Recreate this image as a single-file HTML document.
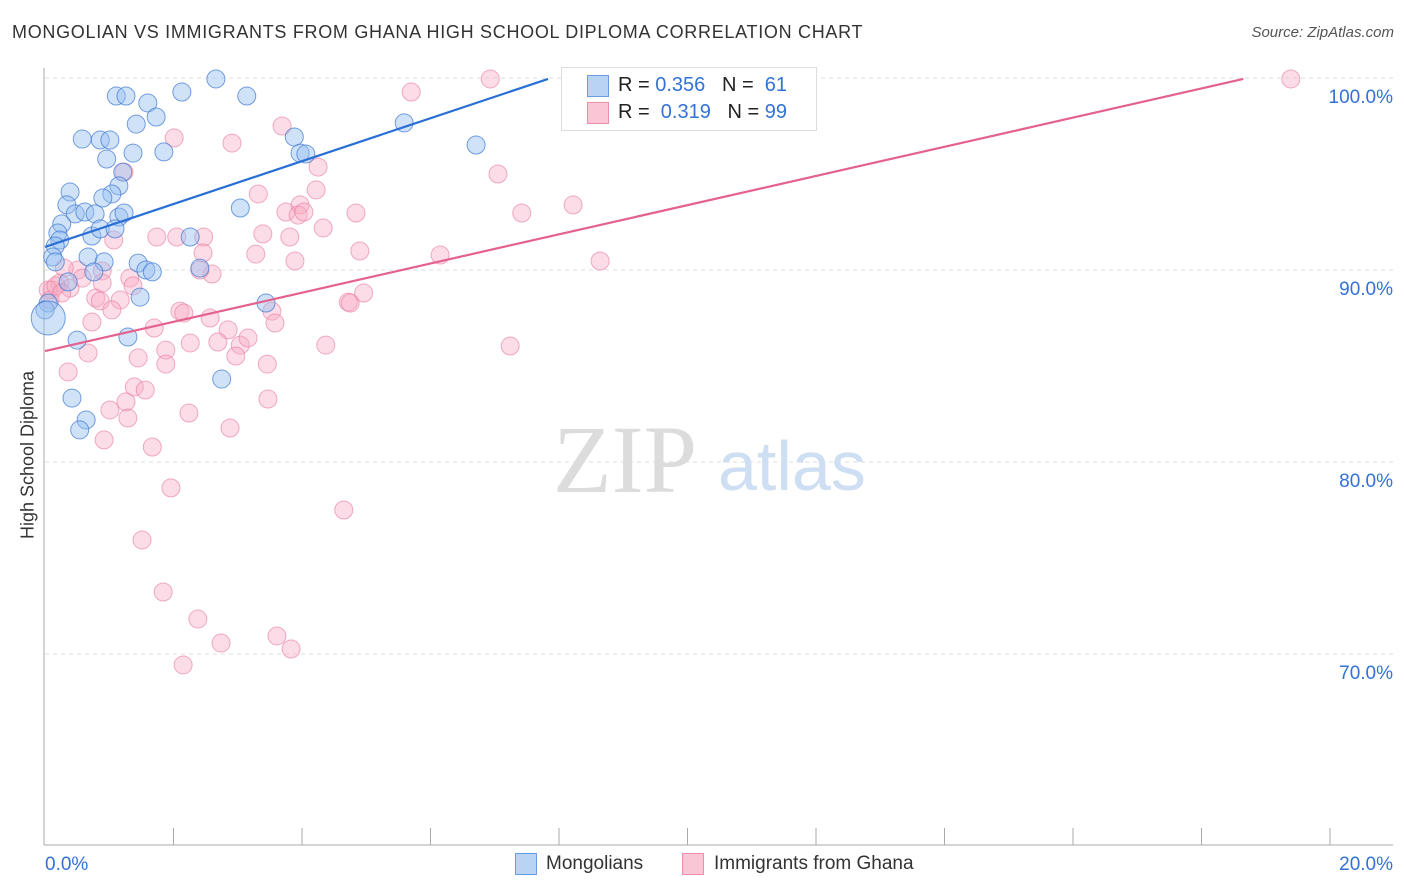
<!DOCTYPE html>
<html><head><meta charset="utf-8"><style>
body{margin:0;background:#fff;font-family:"Liberation Sans",sans-serif;}
#wrap{position:relative;width:1406px;height:892px;overflow:hidden;}
.t{position:absolute;white-space:nowrap;}
</style></head><body>
<div id="wrap">
<div class="t" style="left:12px;top:22px;font-size:18px;color:#333;letter-spacing:0.7px;">MONGOLIAN VS IMMIGRANTS FROM GHANA HIGH SCHOOL DIPLOMA CORRELATION CHART</div>
<div class="t" style="right:12px;top:24px;font-size:15px;color:#555;font-style:italic;">Source: ZipAtlas.com</div>
<div class="t" style="left:28px;top:455px;font-size:18px;color:#333;transform:translate(-50%,-50%) rotate(-90deg);">High School Diploma</div>
<svg id="svg" width="1406" height="892" style="position:absolute;left:0;top:0"></svg>
<div style="position:absolute;left:561px;top:67px;width:254px;height:62px;border:1px solid #ddd;background:rgba(255,255,255,0.9);"></div>
<div style="position:absolute;left:587px;top:75px;width:20px;height:20px;background:#b9d3f5;border:1px solid #6a9be0;"></div>
<div style="position:absolute;left:587px;top:102px;width:20px;height:20px;background:#fac5d4;border:1px solid #ec8faa;"></div>
<div class="t" style="left:618px;top:74px;font-size:20px;color:#222;">R = <span style="color:#3372d6">0.356</span>&nbsp;&nbsp;&nbsp;N = &nbsp;<span style="color:#3372d6">61</span></div>
<div class="t" style="left:618px;top:101px;font-size:20px;color:#222;">R = &nbsp;<span style="color:#3372d6">0.319</span>&nbsp;&nbsp;&nbsp;N = <span style="color:#3372d6">99</span></div>
<div style="position:absolute;left:515px;top:853px;width:20px;height:20px;background:#b9d3f5;border:1px solid #6a9be0;"></div>
<div class="t" style="left:546px;top:853px;font-size:19px;color:#333;">Mongolians</div>
<div style="position:absolute;left:682px;top:853px;width:20px;height:20px;background:#fac5d4;border:1px solid #ec8faa;"></div>
<div class="t" style="left:714px;top:853px;font-size:19px;color:#333;">Immigrants from Ghana</div>
</div>
<script>
const blueX=[1.11,1.26,1.60,2.13,2.66,3.14,1.73,1.42,0.58,0.86,1.01,3.88,3.97,4.06,6.71,5.59,1.37,1.85,0.96,1.21,1.15,1.04,0.90,0.39,0.34,0.47,0.62,0.78,0.26,0.20,0.23,0.16,0.73,0.86,1.15,1.09,1.23,3.04,2.26,0.12,0.16,0.67,0.92,1.45,1.57,1.67,2.41,0.36,0.76,1.48,3.44,0.05,0.50,1.29,2.75,0.42,0.64,0.54,0.0,0.05];
const blueY=[99.06,99.06,98.70,99.27,99.95,99.06,97.97,97.60,96.82,96.77,96.77,96.93,96.09,96.04,96.51,97.66,96.09,96.15,95.78,95.10,94.38,93.96,93.75,94.06,93.39,92.92,93.02,92.92,92.40,91.93,91.56,91.25,91.77,92.14,92.76,92.14,92.97,93.23,91.72,90.68,90.42,90.68,90.42,90.36,90.00,89.90,90.10,89.38,89.90,88.59,88.28,88.28,86.35,86.51,84.32,83.33,82.19,81.67,87.92,87.50];
const pinkX=[6.93,19.39,5.70,3.69,2.01,2.91,1.23,4.25,7.05,3.32,4.22,3.97,3.75,3.94,4.03,4.84,7.42,8.22,4.33,3.39,3.81,2.05,1.74,2.47,1.07,3.28,4.90,6.15,8.64,3.89,2.46,2.60,2.41,1.32,0.89,0.51,0.30,0.23,0.39,0.11,0.58,0.79,0.86,1.17,0.89,1.37,1.04,2.10,2.16,2.57,3.53,3.58,1.70,2.85,0.73,2.26,2.69,3.04,3.16,4.37,4.72,4.75,4.96,7.24,0.67,1.88,1.45,2.97,1.88,3.46,0.36,1.39,1.56,1.01,1.26,2.24,1.29,3.47,0.92,1.67,2.88,1.96,4.65,1.51,1.84,2.38,2.74,3.61,3.83,2.15,0.05,0.08,0.17,0.26];
const pinkY=[99.95,99.95,99.27,97.50,96.88,96.61,95.10,95.36,95.00,93.96,94.17,93.39,93.02,92.86,93.02,92.97,92.97,93.39,92.19,91.88,91.72,91.72,91.72,91.72,91.56,90.83,90.99,90.78,90.47,90.47,90.89,89.79,90.00,89.58,89.95,90.00,90.10,89.32,89.06,88.96,89.58,88.54,88.39,88.44,89.32,89.17,87.92,87.86,87.76,87.50,87.86,87.24,86.98,86.88,87.29,86.20,86.25,86.09,86.46,86.09,88.33,88.28,88.80,86.04,85.68,85.83,85.42,85.52,85.10,85.10,84.69,83.91,83.75,82.71,83.13,82.55,82.29,83.28,81.15,80.78,81.77,78.65,77.50,75.94,73.23,71.82,70.57,70.94,70.26,69.43,88.96,88.44,89.17,88.80];
const blueTrend=[91.2,99.95,7.83];
const pinkTrend=[85.78,99.95,18.65];
const yTicks=[100,90,80,70];
const yTickLabels=["100.0%","90.0%","80.0%","70.0%"];
const xTicks=[0,2,4,6,8,10,12,14,16,18,20];

const NS="http://www.w3.org/2000/svg";
const svg=document.getElementById('svg');
const X=v=>45+v*64.25;
const Y=v=>78+(100-v)*19.2;
function mk(tag,a){const e=document.createElementNS(NS,tag);for(const k in a)e.setAttribute(k,a[k]);svg.appendChild(e);return e;}
yTicks.forEach((t,i)=>{
  const g=mk('line',{x1:45,x2:1393,y1:Y(t),y2:Y(t),stroke:'#ddd','stroke-dasharray':'4,4'});
  
  
  const tx=mk('text',{x:1393,y:Y(t)+25,'text-anchor':'end','font-size':19,fill:'#3372d6','font-family':'Liberation Sans'});
  tx.textContent=yTickLabels[i];
  
  
});
const ya=mk('line',{x1:44,x2:44,y1:68,y2:845,stroke:'#aaa'});


const xa=mk('line',{x1:44,x2:1393,y1:845,y2:845,stroke:'#aaa'});


xTicks.forEach(t=>{
  if(t===0)return;
  const l=mk('line',{x1:X(t),x2:X(t),y1:828,y2:845,stroke:'#aaa'});
  
  
});
const xl0=mk('text',{x:45,y:870,'font-size':19,fill:'#3372d6','font-family':'Liberation Sans'});xl0.textContent='0.0%';


const xl1=mk('text',{x:1393,y:870,'text-anchor':'end','font-size':19,fill:'#3372d6','font-family':'Liberation Sans'});xl1.textContent='20.0%';


const wm=mk('text',{x:553,y:492,'font-size':96,fill:'#dcdcdc','font-family':'Liberation Serif'});wm.textContent='ZIP';


const wm2=mk('text',{x:718,y:490,'font-size':70,fill:'#cfdff3','font-family':'Liberation Sans'});wm2.textContent='atlas';


pinkX.forEach((x,i)=>{
  const c=mk('circle',{cx:X(x),cy:Y(pinkY[i]),r:9,fill:'rgba(248,170,195,0.4)',stroke:'rgba(232,120,155,0.6)','stroke-width':1});
  
  
});
blueX.forEach((x,i)=>{
  const big=i===blueX.length-1;
  const c=mk('circle',{cx:X(x),cy:Y(blueY[i]),r:big?17:9,fill:'rgba(150,190,240,0.45)',stroke:'rgba(60,120,210,0.7)','stroke-width':1});
  
  
});
const bl=mk('line',{x1:X(0),y1:Y(blueTrend[0]),x2:X(blueTrend[2]),y2:Y(blueTrend[1]),stroke:'#2a6fd6','stroke-width':2.2});


const pl=mk('line',{x1:X(0),y1:Y(pinkTrend[0]),x2:X(pinkTrend[2]),y2:Y(pinkTrend[1]),stroke:'#e4628d','stroke-width':2.2});


</script>
</body></html>
